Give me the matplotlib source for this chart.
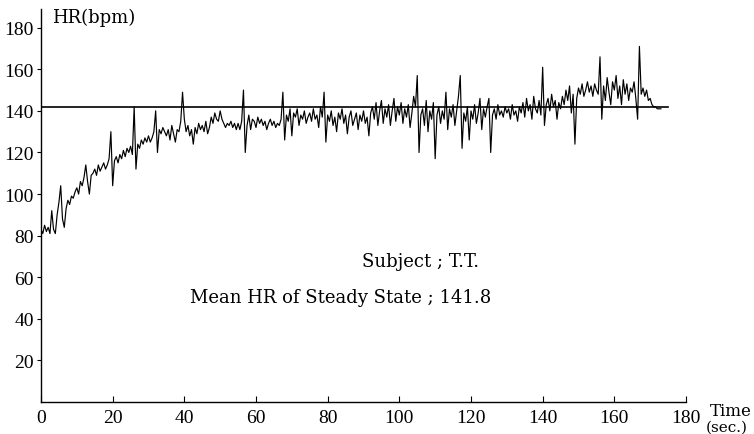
import numpy as np
import matplotlib
matplotlib.use("Agg")
import matplotlib.pyplot as plt

# heart-rate samples every 0.5 s (bpm)
hr_values = [
    83, 81, 85, 82, 84, 81, 92, 83, 81, 90,
    96, 104, 88, 84, 93, 97, 95, 99, 98, 101,
    103, 100, 106, 104, 108, 114, 106, 100, 109, 110,
    112, 109, 114, 111, 113, 115, 112, 114, 117, 130,
    104, 116, 118, 115, 119, 117, 121, 118, 122, 120,
    123, 119, 142, 112, 124, 122, 126, 124, 127, 125,
    128, 125, 127, 130, 140, 120, 131, 129, 132, 130,
    128, 131, 126, 133, 129, 125, 131, 130, 135, 149,
    136, 130, 133, 128, 131, 124, 132, 129, 134, 131,
    133, 130, 135, 129, 132, 137, 134, 139, 136, 135,
    140, 136, 134, 132, 134, 133, 135, 132, 134, 131,
    134, 131, 135, 150, 120, 133, 138, 131, 136, 135,
    132, 137, 134, 136, 133, 135, 131, 134, 136, 133,
    135, 132, 134, 133, 136, 149, 126, 138, 135, 141,
    128, 139, 137, 141, 133, 138, 136, 140, 134, 137,
    139, 135, 141, 136, 138, 132, 142, 137, 149, 125,
    138, 135, 140, 133, 137, 130, 139, 136, 141, 134,
    138, 129, 137, 140, 133, 136, 139, 131, 138, 135,
    140, 134, 137, 128, 139, 142, 136, 144, 133, 140,
    145, 134, 141, 137, 143, 133, 140, 146, 135, 142,
    138, 144, 134, 141, 137, 143, 132, 139, 147, 142,
    157, 120, 138, 141, 133, 145, 130, 140, 136, 144,
    117, 138, 142, 134, 140, 136, 149, 131, 141, 137,
    143, 133, 140, 147, 157, 122, 139, 135, 142, 126,
    140, 136, 143, 134, 139, 146, 131, 141, 137, 142,
    146, 120, 138, 141, 136, 143, 138, 140, 137, 142,
    139, 141, 136, 143, 138, 140, 135, 142, 139, 144,
    137, 146, 140, 143, 136, 147, 141, 139, 145, 138,
    161, 133, 143, 146, 140, 148, 142, 145, 136, 144,
    141, 147, 143, 150, 145, 152, 139, 148, 124, 146,
    151, 148, 153, 147, 150, 154, 149, 152, 147, 153,
    150, 148, 166, 136, 152, 145, 156, 149, 143, 154,
    150, 157, 146, 152, 143, 155, 148, 153, 145, 151,
    149, 154, 146, 136, 171, 148, 151, 147, 150, 145,
    146, 143, 142, 142, 141, 141, 141,
]
sample_step = 0.5
time_values = [i * sample_step for i in range(len(hr_values))]

mean_hr = 141.8
mean_span = [0, 175]

x_ticks = [0, 20, 40, 60, 80, 100, 120, 140, 160, 180]
y_ticks = [20, 40, 60, 80, 100, 120, 140, 160, 180]

plt.rcParams['font.family'] = ['Liberation Serif', 'DejaVu Serif']
label_font = ['DejaVu Serif']

fig = plt.figure(figsize=(7.54, 4.35), dpi=100)
ax = fig.add_axes([41/754, 32/435, 645/754, 393/435])

ax.plot(time_values, hr_values, color='black', lw=0.85)
ax.plot(mean_span, [mean_hr, mean_hr], color='black', lw=1.2)

ax.set_xlim(0, 180)
ax.set_ylim(0, 189)
ax.set_xticks(x_ticks)
ax.set_yticks(y_ticks)
ax.tick_params(axis='x', direction='in', length=4, width=0.8, labelsize=14, pad=5)
ax.tick_params(axis='y', direction='out', length=3, width=0.8, labelsize=14, pad=2)
for s in ['top', 'right']:
    ax.spines[s].set_visible(False)
for s in ['left', 'bottom']:
    ax.spines[s].set_linewidth(1.0)

fig.text(52/754, 1 - 18/435, 'HR(bpm)', fontsize=13, family=label_font, ha='left', va='center')
fig.text(710/754, 1 - 412/435, 'Time', fontsize=12, family=label_font, ha='left', va='center')
fig.text(706/754, 1 - 428/435, '(sec.)', fontsize=11, family=label_font, ha='left', va='center')
fig.text(362/754, 1 - 262/435, 'Subject ; T.T.', fontsize=13, family=label_font, ha='left', va='center')
fig.text(190/754, 1 - 298/435, 'Mean HR of Steady State ; 141.8', fontsize=13, family=label_font, ha='left', va='center')

fig.savefig('out.png', dpi=100)
